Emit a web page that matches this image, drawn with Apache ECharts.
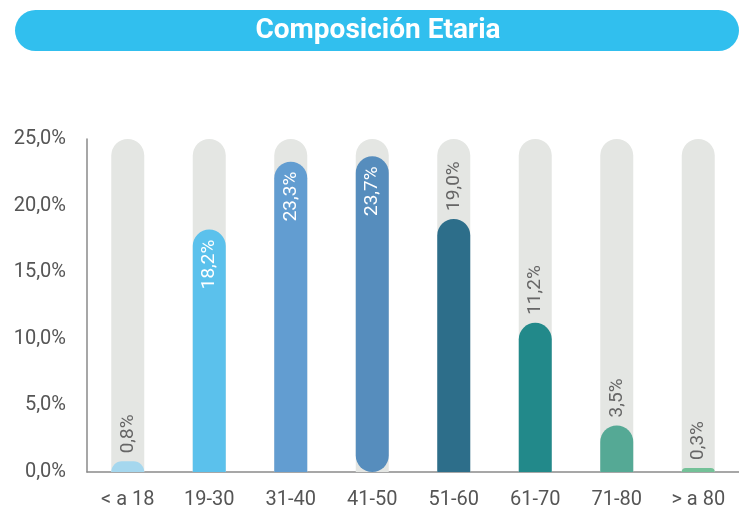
<!DOCTYPE html>
<html>
<head>
<meta charset="utf-8">
<script src="https://cdn.jsdelivr.net/npm/echarts@6/dist/echarts.min.js"></script>
<style>
html,body{margin:0;padding:0;background:#fff;}
#chart{width:739px;height:511px;}
</style>
</head>
<body>
<div id="chart"></div>
<script>
const titleText = 'Composición Etaria';
const categories = ['< a 18', '19-30', '31-40', '41-50', '51-60', '61-70', '71-80', '> a 80'];
const values = [0.8, 18.2, 23.3, 23.7, 19.0, 11.2, 3.5, 0.3];
const yTicks = [0, 5, 10, 15, 20, 25];
const insideLabelCats = ['19-30', '31-40', '41-50'];
const fullRoundCats = ['41-50'];
const barColors = ['#a5d7ee', '#5bc1ec', '#629dd1', '#568dbd', '#2d6e8a', '#22898a', '#55a995', '#74c198'];

const fmt = v => v.toFixed(1).replace('.', ',') + '%';

const chart = echarts.init(document.getElementById('chart'), null, {renderer: 'canvas'});

const seriesData = values.map((v, i) => {
  const inside = insideLabelCats.includes(categories[i]);
  const full = fullRoundCats.includes(categories[i]);
  return {
    value: v,
    itemStyle: {
      color: barColors[i],
      borderRadius: full ? [16.5, 16.5, 16.5, 16.5] : [16.5, 16.5, 0, 0]
    },
    label: inside ? {
      position: 'insideTop',
      distance: 10,
      rotate: 90,
      align: 'right',
      verticalAlign: 'middle',
      color: '#ffffff'
    } : {
      position: 'top',
      distance: 8,
      rotate: 90,
      align: 'left',
      verticalAlign: 'middle',
      color: '#666666'
    }
  };
});

chart.setOption({
  animation: false,
  graphic: [
    {
      type: 'rect',
      left: 15, top: 10,
      shape: {width: 724, height: 41, r: 20.5},
      style: {fill: '#31bfee'}
    },
    {
      type: 'text',
      x: 378, y: 31,
      style: {
        text: titleText,
        fill: '#ffffff',
        font: 'bold 28px Roboto',
        textAlign: 'center',
        textVerticalAlign: 'middle'
      }
    }
  ],
  grid: {left: 87, top: 139, width: 657, height: 333},
  xAxis: {
    type: 'category',
    data: categories,
    axisLine: {show: true, lineStyle: {color: '#8a8a8a', width: 1.5}},
    axisTick: {show: false},
    axisLabel: {color: '#555555', fontSize: 20, fontFamily: 'Roboto', margin: 18}
  },
  yAxis: {
    type: 'value',
    min: yTicks[0],
    max: yTicks[yTicks.length - 1],
    interval: yTicks[1] - yTicks[0],
    axisLine: {show: true, lineStyle: {color: '#8a8a8a', width: 1.5}},
    axisTick: {show: false},
    splitLine: {show: false},
    axisLabel: {
      color: '#555555', fontSize: 20, fontFamily: 'Roboto', margin: 21,
      formatter: v => fmt(v)
    }
  },
  series: [{
    type: 'bar',
    barWidth: 33,
    data: seriesData,
    showBackground: true,
    backgroundStyle: {color: '#e4e6e3', borderRadius: [16.5, 16.5, 0, 0]},
    label: {
      show: true,
      fontSize: 19,
      fontFamily: 'Roboto',
      formatter: p => fmt(p.value)
    }
  }]
});
</script>
</body>
</html>
